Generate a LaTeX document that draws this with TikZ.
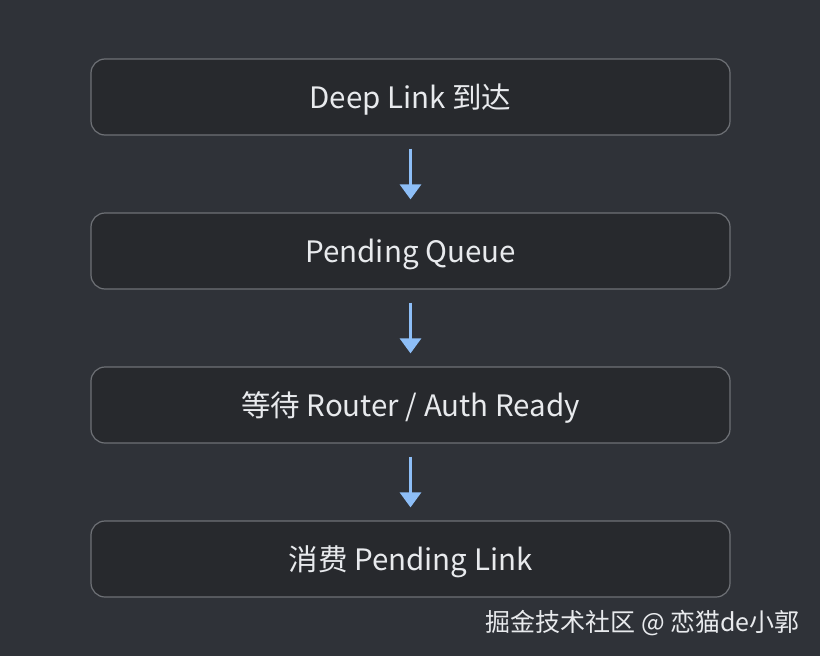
\documentclass[tikz,border=0pt]{standalone}
\usepackage{fontspec}
\setmainfont{Noto Sans CJK SC}
\usetikzlibrary{arrows.meta}
\definecolor{bgc}{HTML}{2F3238}
\definecolor{boxfill}{HTML}{27292D}
\definecolor{boxline}{HTML}{6E7176}
\definecolor{arrowc}{HTML}{8DBEF7}
\definecolor{txtc}{HTML}{E8EAED}
\begin{document}
\begin{tikzpicture}[x=1pt,y=-1pt,
  stepbox/.style={draw=boxline, line width=1.2pt, fill=boxfill, rounded corners=14pt,
    minimum width=639pt, minimum height=76pt, text=txtc, font=\fontsize{29.5}{34}\selectfont,
    inner sep=0pt, text height=23pt, text depth=0pt},
  flow/.style={draw=arrowc, line width=3pt, -{Triangle[width=21pt,length=15pt]}, shorten <=13pt, shorten >=13pt}]
\fill[bgc] (0,0) rectangle (820,656);
\useasboundingbox (0,0) rectangle (820,656);
\node[stepbox] (a) at (410.5,97) {Deep Link 到达};
\node[stepbox] (b) at (410.5,251) {Pending Queue};
\node[stepbox] (c) at (410.5,405) {等待 Router / Auth Ready};
\node[stepbox] (d) at (410.5,559) {消费 Pending Link};
\draw[flow] (a) -- (b);
\draw[flow] (b) -- (c);
\draw[flow] (c) -- (d);
\node[anchor=base east, text=txtc, font=\fontsize{25}{30}\selectfont, inner sep=0pt] (w) at (800,631) {掘金技术社区 @ 恋猫de小郭};
\end{tikzpicture}
\end{document}
